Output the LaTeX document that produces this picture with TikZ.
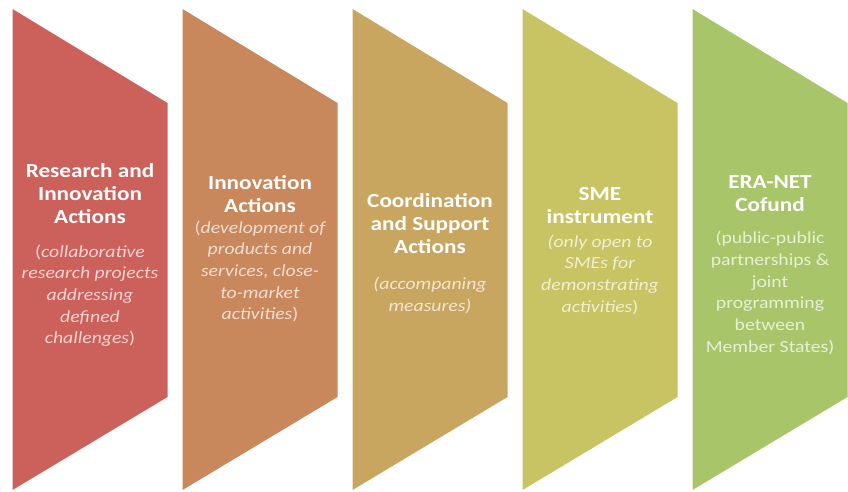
\documentclass[tikz,border=0pt]{standalone}
\usepackage{fontspec}
\setmainfont{Carlito}[FakeStretch=1.16]
\definecolor{cA}{RGB}{204,97,92}
\definecolor{cB}{RGB}{201,135,92}
\definecolor{cC}{RGB}{201,166,96}
\definecolor{cD}{RGB}{200,196,100}
\definecolor{cE}{RGB}{168,197,106}
\tikzset{
  ttl/.style={anchor=north, align=center, inner sep=0pt, text=white,
    font=\bfseries\fontsize{20}{23}\selectfont},
  subtl/.style={anchor=north, align=center, inner sep=0pt, text=white!72!#1,
    font=\itshape\fontsize{17}{21.7}\selectfont},
  subup/.style={anchor=north, align=center, inner sep=0pt, text=white!72!#1,
    font=\fontsize{17}{21.7}\selectfont},
}
\newcommand{\chev}[2]{%
  \fill[#2] (#1,482) -- (#1+155,388) -- (#1+155,94) -- (#1,1) -- cycle;}
\begin{document}
\begin{tikzpicture}[x=1pt,y=1pt]
\useasboundingbox (0,0) rectangle (848,491);
\chev{12.5}{cA}
\chev{182.5}{cB}
\chev{352.5}{cC}
\chev{522.5}{cD}
\chev{692.5}{cE}

\node[ttl] (t1) at (90,327.5) {Research and\\Innovation\\Actions};
\node[subtl=cA] (s1) at (90,246.5) {\textup{(}collaborative\\research projects\\addressing\\defined\\challenges\textup{)}};

\node[ttl] (t2) at (260,315.5) {Innovation\\Actions};
\node[subtl=cB] (s2) at (260,270.5) {\textup{(}development of\\products and\\services, close-\\to-market\\activities\textup{)}};

\node[ttl] (t3) at (430,298) {Coordination\\and Support\\Actions};
\node[subtl=cC] (s3) at (430,214) {(accompaning\\measures)};

\node[ttl] (t4) at (600,304) {SME\\instrument};
\node[subtl=cD] (s4) at (600,256.5) {(only open to\\SMEs for\\demonstrating\\activities\textup{)}};

\node[ttl] (t5) at (770,315.5) {ERA-NET\\Cofund};
\node[subup=cE] (s5) at (770,260) {(public-public\\partnerships \&\\joint\\programming\\between\\Member States)};
\end{tikzpicture}
\end{document}
